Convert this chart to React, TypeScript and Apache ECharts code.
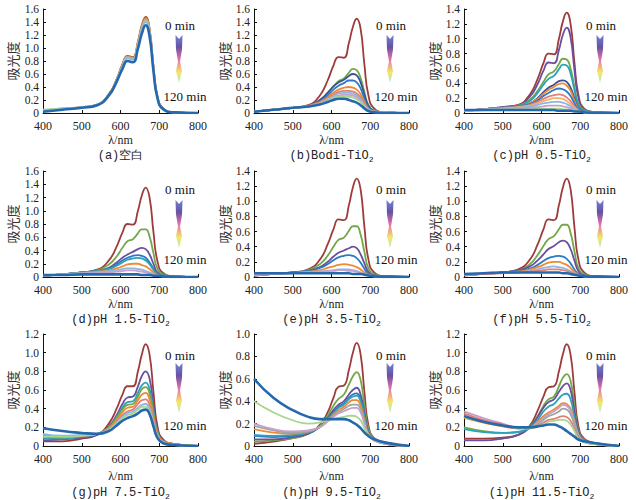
import React, { useEffect, useRef } from "react";
import * as echarts from "echarts";

// wavelength sample points (nm)
const WL = [400, 450, 500, 540, 570, 590, 605, 618, 632, 645, 655, 665, 675, 685, 695, 710, 740, 800];

const X_TICKS = [400, 500, 600, 700, 800];
const Y_MAX = [1.6, 1.6, 1.4, 1.6, 1.4, 1.4, 1.2, 1.0, 1.2];

const CAPTION_MAIN = ["(a)空白", "(b)Bodi-TiO", "(c)pH 0.5-TiO", "(d)pH 1.5-TiO", "(e)pH 3.5-TiO", "(f)pH 5.5-TiO", "(g)pH 7.5-TiO", "(h)pH 9.5-TiO", "(i)pH 11.5-TiO"];
const CAPTION_SUB = ["", "2", "2", "2", "2", "2", "2", "2", "2"];
const Y_NAME = "吸光度";
const X_NAME = "λ/nm";
const T_START = "0 min";
const T_END = "120 min";

// absorbance values, one array per time step (0 min -> 120 min)
const A_VALUES = [
  [0.03, 0.06, 0.09, 0.13, 0.29, 0.52, 0.75, 0.88, 0.86, 1.1, 1.35, 1.48, 1.3, 0.72, 0.27, 0.07, 0.01, 0],
  [0.04, 0.06, 0.09, 0.13, 0.29, 0.51, 0.74, 0.87, 0.85, 1.09, 1.33, 1.46, 1.28, 0.71, 0.26, 0.07, 0.01, 0],
  [0.04, 0.07, 0.09, 0.13, 0.28, 0.51, 0.73, 0.86, 0.84, 1.07, 1.31, 1.44, 1.27, 0.7, 0.26, 0.07, 0.01, 0],
  [0.05, 0.07, 0.09, 0.13, 0.28, 0.5, 0.72, 0.85, 0.83, 1.06, 1.3, 1.42, 1.25, 0.69, 0.25, 0.06, 0.01, 0],
  [0.04, 0.06, 0.09, 0.13, 0.28, 0.5, 0.71, 0.84, 0.82, 1.04, 1.28, 1.4, 1.23, 0.68, 0.25, 0.06, 0.01, 0],
  [0.02, 0.05, 0.08, 0.12, 0.27, 0.48, 0.68, 0.8, 0.78, 0.99, 1.22, 1.35, 1.18, 0.65, 0.24, 0.06, 0.01, 0],
];
const B_VALUES = [
  [0.02, 0.05, 0.08, 0.12, 0.27, 0.5, 0.73, 0.86, 0.85, 1.08, 1.32, 1.45, 1.3, 0.74, 0.28, 0.07, 0.01, 0],
  [0.02, 0.05, 0.08, 0.11, 0.2, 0.31, 0.41, 0.49, 0.53, 0.62, 0.68, 0.66, 0.54, 0.32, 0.13, 0.04, 0.01, 0],
  [0.02, 0.05, 0.08, 0.11, 0.2, 0.31, 0.41, 0.47, 0.51, 0.57, 0.6, 0.58, 0.47, 0.28, 0.11, 0.03, 0.01, 0],
  [0.02, 0.05, 0.08, 0.11, 0.18, 0.27, 0.36, 0.42, 0.46, 0.5, 0.5, 0.47, 0.38, 0.22, 0.09, 0.03, 0.01, 0],
  [0.02, 0.05, 0.08, 0.11, 0.17, 0.24, 0.31, 0.36, 0.39, 0.4, 0.39, 0.36, 0.29, 0.17, 0.07, 0.02, 0.01, 0],
  [0.02, 0.05, 0.08, 0.1, 0.16, 0.22, 0.28, 0.32, 0.34, 0.34, 0.33, 0.3, 0.24, 0.14, 0.06, 0.02, 0.01, 0],
  [0.02, 0.05, 0.08, 0.1, 0.15, 0.21, 0.26, 0.3, 0.31, 0.31, 0.3, 0.27, 0.21, 0.12, 0.05, 0.02, 0.01, 0],
  [0.02, 0.05, 0.08, 0.1, 0.15, 0.2, 0.24, 0.27, 0.28, 0.28, 0.27, 0.24, 0.19, 0.11, 0.05, 0.02, 0.01, 0],
  [0.02, 0.05, 0.08, 0.1, 0.14, 0.19, 0.23, 0.25, 0.25, 0.25, 0.24, 0.21, 0.17, 0.1, 0.04, 0.02, 0.01, 0],
  [0.02, 0.05, 0.08, 0.1, 0.13, 0.17, 0.2, 0.22, 0.22, 0.2, 0.18, 0.16, 0.12, 0.07, 0.03, 0.01, 0, 0],
];
const C_VALUES = [
  [0.03, 0.05, 0.08, 0.11, 0.25, 0.46, 0.67, 0.8, 0.79, 1.0, 1.23, 1.35, 1.2, 0.68, 0.25, 0.06, 0.01, 0],
  [0.03, 0.05, 0.08, 0.1, 0.22, 0.39, 0.57, 0.68, 0.67, 0.85, 1.05, 1.15, 1.02, 0.58, 0.21, 0.05, 0.01, 0],
  [0.03, 0.05, 0.07, 0.1, 0.18, 0.3, 0.42, 0.52, 0.56, 0.66, 0.73, 0.72, 0.6, 0.35, 0.13, 0.04, 0.01, 0],
  [0.03, 0.05, 0.07, 0.1, 0.16, 0.27, 0.38, 0.46, 0.5, 0.59, 0.65, 0.64, 0.53, 0.31, 0.11, 0.03, 0.01, 0],
  [0.03, 0.05, 0.07, 0.09, 0.13, 0.2, 0.28, 0.34, 0.38, 0.43, 0.44, 0.42, 0.34, 0.2, 0.07, 0.02, 0, 0],
  [0.03, 0.05, 0.07, 0.09, 0.13, 0.19, 0.26, 0.31, 0.35, 0.39, 0.4, 0.37, 0.3, 0.17, 0.06, 0.02, 0, 0],
  [0.03, 0.05, 0.07, 0.09, 0.12, 0.17, 0.23, 0.27, 0.31, 0.33, 0.32, 0.29, 0.23, 0.13, 0.05, 0.02, 0, 0],
  [0.03, 0.05, 0.07, 0.08, 0.11, 0.15, 0.19, 0.22, 0.24, 0.25, 0.24, 0.21, 0.16, 0.09, 0.04, 0.01, 0, 0],
  [0.03, 0.05, 0.06, 0.08, 0.1, 0.13, 0.16, 0.18, 0.2, 0.2, 0.19, 0.16, 0.12, 0.07, 0.03, 0.01, 0, 0],
  [0.03, 0.05, 0.06, 0.07, 0.09, 0.11, 0.13, 0.14, 0.15, 0.15, 0.14, 0.12, 0.09, 0.05, 0.02, 0.01, 0, 0],
  [0.03, 0.04, 0.05, 0.06, 0.07, 0.08, 0.09, 0.1, 0.1, 0.1, 0.09, 0.08, 0.06, 0.04, 0.02, 0.01, 0, 0],
  [0.03, 0.04, 0.05, 0.05, 0.05, 0.06, 0.06, 0.06, 0.06, 0.06, 0.05, 0.05, 0.04, 0.03, 0.02, 0.01, 0, 0],
  [0.04, 0.04, 0.04, 0.04, 0.04, 0.04, 0.04, 0.04, 0.04, 0.03, 0.03, 0.03, 0.03, 0.02, 0.02, 0.01, 0, 0],
];
const D_VALUES = [
  [0.02, 0.04, 0.07, 0.11, 0.25, 0.46, 0.67, 0.8, 0.79, 1.0, 1.23, 1.35, 1.2, 0.68, 0.25, 0.06, 0.01, 0],
  [0.02, 0.04, 0.07, 0.1, 0.19, 0.31, 0.44, 0.54, 0.57, 0.66, 0.72, 0.72, 0.61, 0.36, 0.13, 0.04, 0.01, 0],
  [0.02, 0.04, 0.07, 0.09, 0.14, 0.22, 0.29, 0.34, 0.38, 0.42, 0.44, 0.42, 0.34, 0.2, 0.07, 0.02, 0.01, 0],
  [0.02, 0.04, 0.07, 0.09, 0.13, 0.19, 0.25, 0.29, 0.32, 0.33, 0.32, 0.29, 0.22, 0.13, 0.05, 0.02, 0.01, 0],
  [0.02, 0.04, 0.07, 0.09, 0.12, 0.17, 0.22, 0.26, 0.28, 0.29, 0.28, 0.25, 0.19, 0.11, 0.04, 0.02, 0.01, 0],
  [0.02, 0.04, 0.06, 0.08, 0.1, 0.13, 0.16, 0.19, 0.2, 0.2, 0.18, 0.16, 0.12, 0.07, 0.03, 0.01, 0, 0],
  [0.02, 0.04, 0.06, 0.07, 0.09, 0.1, 0.12, 0.13, 0.13, 0.12, 0.11, 0.09, 0.07, 0.04, 0.02, 0.01, 0, 0],
  [0.02, 0.04, 0.05, 0.06, 0.07, 0.08, 0.09, 0.1, 0.1, 0.09, 0.08, 0.07, 0.05, 0.03, 0.02, 0.01, 0, 0],
  [0.03, 0.03, 0.04, 0.04, 0.04, 0.04, 0.04, 0.04, 0.04, 0.04, 0.03, 0.03, 0.03, 0.02, 0.02, 0.01, 0, 0],
];
const E_VALUES = [
  [0.02, 0.04, 0.06, 0.1, 0.23, 0.43, 0.63, 0.76, 0.75, 0.95, 1.18, 1.3, 1.16, 0.66, 0.24, 0.06, 0.01, 0],
  [0.02, 0.04, 0.06, 0.09, 0.17, 0.28, 0.4, 0.49, 0.52, 0.61, 0.67, 0.67, 0.56, 0.33, 0.12, 0.04, 0.01, 0],
  [0.02, 0.04, 0.06, 0.08, 0.13, 0.2, 0.27, 0.32, 0.35, 0.38, 0.4, 0.38, 0.3, 0.18, 0.07, 0.02, 0.01, 0],
  [0.03, 0.04, 0.06, 0.08, 0.12, 0.17, 0.22, 0.26, 0.28, 0.29, 0.28, 0.25, 0.19, 0.11, 0.04, 0.02, 0.01, 0],
  [0.03, 0.04, 0.05, 0.07, 0.09, 0.12, 0.14, 0.16, 0.17, 0.16, 0.15, 0.13, 0.1, 0.06, 0.03, 0.01, 0, 0],
  [0.03, 0.04, 0.05, 0.06, 0.07, 0.08, 0.09, 0.1, 0.1, 0.1, 0.09, 0.08, 0.06, 0.04, 0.02, 0.01, 0, 0],
  [0.03, 0.04, 0.05, 0.06, 0.07, 0.08, 0.08, 0.09, 0.09, 0.08, 0.08, 0.07, 0.05, 0.03, 0.02, 0.01, 0, 0],
  [0.05, 0.05, 0.05, 0.05, 0.05, 0.05, 0.05, 0.05, 0.05, 0.05, 0.04, 0.04, 0.04, 0.03, 0.02, 0.01, 0, 0],
];
const F_VALUES = [
  [0.02, 0.04, 0.06, 0.1, 0.23, 0.43, 0.63, 0.76, 0.75, 0.95, 1.18, 1.3, 1.16, 0.66, 0.24, 0.06, 0.01, 0],
  [0.03, 0.04, 0.06, 0.09, 0.17, 0.29, 0.41, 0.5, 0.54, 0.63, 0.69, 0.69, 0.58, 0.34, 0.12, 0.04, 0.01, 0],
  [0.03, 0.04, 0.06, 0.09, 0.14, 0.22, 0.3, 0.37, 0.41, 0.46, 0.48, 0.46, 0.37, 0.22, 0.08, 0.02, 0.01, 0],
  [0.03, 0.04, 0.06, 0.08, 0.11, 0.16, 0.21, 0.25, 0.27, 0.28, 0.27, 0.24, 0.18, 0.1, 0.04, 0.02, 0.01, 0],
  [0.03, 0.04, 0.06, 0.07, 0.1, 0.13, 0.16, 0.19, 0.2, 0.2, 0.18, 0.16, 0.12, 0.07, 0.03, 0.01, 0, 0],
  [0.03, 0.04, 0.05, 0.06, 0.08, 0.1, 0.12, 0.13, 0.14, 0.13, 0.12, 0.1, 0.08, 0.05, 0.02, 0.01, 0, 0],
  [0.03, 0.04, 0.05, 0.06, 0.07, 0.08, 0.09, 0.1, 0.1, 0.1, 0.09, 0.08, 0.06, 0.04, 0.02, 0.01, 0, 0],
  [0.04, 0.05, 0.06, 0.06, 0.06, 0.06, 0.06, 0.06, 0.06, 0.06, 0.05, 0.05, 0.04, 0.03, 0.02, 0.01, 0, 0],
];
const G_VALUES = [
  [0.05, 0.05, 0.08, 0.12, 0.24, 0.4, 0.55, 0.64, 0.64, 0.8, 0.98, 1.09, 0.98, 0.58, 0.22, 0.07, 0.02, 0],
  [0.06, 0.07, 0.09, 0.12, 0.21, 0.33, 0.45, 0.52, 0.53, 0.64, 0.75, 0.8, 0.72, 0.44, 0.18, 0.06, 0.02, 0],
  [0.08, 0.08, 0.1, 0.13, 0.2, 0.31, 0.41, 0.47, 0.48, 0.57, 0.65, 0.68, 0.61, 0.38, 0.16, 0.05, 0.02, 0],
  [0.1, 0.09, 0.11, 0.13, 0.2, 0.3, 0.39, 0.44, 0.45, 0.53, 0.61, 0.63, 0.56, 0.35, 0.15, 0.05, 0.02, 0],
  [0.12, 0.1, 0.11, 0.13, 0.19, 0.28, 0.36, 0.41, 0.42, 0.49, 0.55, 0.57, 0.5, 0.31, 0.13, 0.05, 0.02, 0],
  [0.12, 0.1, 0.11, 0.13, 0.18, 0.26, 0.33, 0.37, 0.39, 0.45, 0.49, 0.5, 0.44, 0.28, 0.12, 0.04, 0.01, 0],
  [0.13, 0.11, 0.12, 0.13, 0.18, 0.25, 0.31, 0.35, 0.37, 0.41, 0.44, 0.45, 0.4, 0.25, 0.11, 0.04, 0.01, 0],
  [0.1, 0.1, 0.11, 0.13, 0.17, 0.24, 0.3, 0.33, 0.35, 0.39, 0.42, 0.42, 0.37, 0.23, 0.1, 0.04, 0.01, 0],
  [0.19, 0.16, 0.14, 0.13, 0.16, 0.22, 0.27, 0.3, 0.32, 0.35, 0.38, 0.39, 0.34, 0.21, 0.09, 0.03, 0.01, 0],
];
const H_VALUES = [
  [0.02, 0.04, 0.07, 0.11, 0.19, 0.3, 0.43, 0.53, 0.54, 0.68, 0.83, 0.92, 0.82, 0.48, 0.19, 0.07, 0.03, 0],
  [0.04, 0.05, 0.07, 0.11, 0.18, 0.27, 0.36, 0.42, 0.46, 0.55, 0.62, 0.66, 0.59, 0.36, 0.16, 0.07, 0.03, 0],
  [0.06, 0.06, 0.08, 0.11, 0.17, 0.25, 0.32, 0.37, 0.4, 0.46, 0.5, 0.52, 0.46, 0.29, 0.13, 0.06, 0.02, 0],
  [0.09, 0.08, 0.09, 0.12, 0.17, 0.24, 0.3, 0.35, 0.38, 0.43, 0.46, 0.47, 0.42, 0.27, 0.12, 0.06, 0.02, 0],
  [0.1, 0.09, 0.1, 0.12, 0.17, 0.24, 0.29, 0.34, 0.37, 0.42, 0.44, 0.45, 0.4, 0.26, 0.12, 0.06, 0.02, 0],
  [0.15, 0.12, 0.11, 0.13, 0.17, 0.23, 0.28, 0.32, 0.35, 0.39, 0.41, 0.41, 0.36, 0.23, 0.11, 0.06, 0.02, 0],
  [0.18, 0.14, 0.12, 0.13, 0.17, 0.22, 0.27, 0.3, 0.33, 0.36, 0.37, 0.37, 0.33, 0.21, 0.1, 0.05, 0.02, 0],
  [0.2, 0.15, 0.13, 0.14, 0.17, 0.22, 0.26, 0.29, 0.31, 0.33, 0.34, 0.34, 0.3, 0.2, 0.1, 0.05, 0.02, 0],
  [0.4, 0.3, 0.23, 0.2, 0.21, 0.23, 0.24, 0.25, 0.26, 0.27, 0.27, 0.26, 0.23, 0.16, 0.1, 0.06, 0.03, 0],
  [0.6, 0.43, 0.32, 0.26, 0.24, 0.24, 0.24, 0.24, 0.24, 0.23, 0.21, 0.19, 0.16, 0.12, 0.09, 0.06, 0.03, 0],
];
const I_VALUES = [
  [0.08, 0.08, 0.09, 0.12, 0.22, 0.38, 0.53, 0.63, 0.64, 0.8, 0.98, 1.09, 0.98, 0.58, 0.22, 0.08, 0.03, 0],
  [0.2, 0.16, 0.14, 0.15, 0.21, 0.32, 0.43, 0.5, 0.53, 0.64, 0.73, 0.77, 0.7, 0.43, 0.18, 0.07, 0.03, 0],
  [0.06, 0.06, 0.08, 0.12, 0.2, 0.31, 0.41, 0.47, 0.5, 0.58, 0.64, 0.67, 0.6, 0.37, 0.16, 0.06, 0.02, 0],
  [0.18, 0.15, 0.14, 0.15, 0.2, 0.28, 0.37, 0.42, 0.45, 0.51, 0.55, 0.56, 0.5, 0.31, 0.14, 0.06, 0.02, 0],
  [0.3, 0.25, 0.21, 0.19, 0.2, 0.26, 0.32, 0.36, 0.39, 0.43, 0.46, 0.45, 0.4, 0.26, 0.12, 0.05, 0.02, 0],
  [0.37, 0.3, 0.24, 0.2, 0.2, 0.25, 0.3, 0.34, 0.37, 0.41, 0.44, 0.43, 0.38, 0.25, 0.12, 0.05, 0.02, 0],
  [0.33, 0.27, 0.22, 0.19, 0.19, 0.23, 0.28, 0.32, 0.34, 0.37, 0.4, 0.39, 0.34, 0.23, 0.11, 0.05, 0.02, 0],
  [0.35, 0.28, 0.23, 0.19, 0.19, 0.21, 0.25, 0.28, 0.29, 0.31, 0.32, 0.31, 0.27, 0.18, 0.09, 0.04, 0.02, 0],
  [0.31, 0.26, 0.22, 0.19, 0.19, 0.21, 0.23, 0.26, 0.27, 0.28, 0.28, 0.27, 0.23, 0.16, 0.08, 0.04, 0.02, 0],
  [0.32, 0.26, 0.22, 0.2, 0.2, 0.21, 0.22, 0.23, 0.23, 0.21, 0.19, 0.16, 0.13, 0.1, 0.07, 0.05, 0.03, 0],
];

const PANEL_VALUES = [A_VALUES, B_VALUES, C_VALUES, D_VALUES, E_VALUES, F_VALUES, G_VALUES, H_VALUES, I_VALUES];

// styles
const RED = "#9e3b3b", PURPLE = "#6a4f9e", GREEN = "#72a84a", TEAL = "#2aa3b8", DKBLUE = "#3d4f98";
const ORANGE = "#ef8a32", BLUE = "#2a7bc4", SALMON = "#e0807a", LTBLUE = "#8fb6e0", LTPURP = "#c4a0cc";
const LTGREEN = "#a9d58f", GRAY = "#a3a3a3", LTORANGE = "#f5b070", FINAL = "#2468ad";
const PANEL_COLORS = [
  [RED, ORANGE, GRAY, LTGREEN, LTBLUE, FINAL],
  [RED, GREEN, DKBLUE, BLUE, ORANGE, SALMON, LTBLUE, LTPURP, LTGREEN, FINAL],
  [RED, PURPLE, GREEN, TEAL, DKBLUE, ORANGE, BLUE, SALMON, LTORANGE, LTBLUE, LTPURP, LTGREEN, FINAL],
  [RED, GREEN, PURPLE, BLUE, TEAL, ORANGE, LTBLUE, LTPURP, FINAL],
  [RED, GREEN, PURPLE, BLUE, ORANGE, LTBLUE, LTPURP, FINAL],
  [RED, GREEN, PURPLE, BLUE, ORANGE, LTBLUE, SALMON, FINAL],
  [RED, PURPLE, TEAL, GREEN, ORANGE, SALMON, LTBLUE, LTGREEN, FINAL],
  [RED, GREEN, PURPLE, BLUE, TEAL, ORANGE, GRAY, LTPURP, LTGREEN, FINAL],
  [RED, GREEN, PURPLE, TEAL, ORANGE, LTPURP, GRAY, SALMON, LTGREEN, FINAL],
];

const COL_LEFT = [43, 254, 464];
const PLOT_W = 155;
const ROW_TOP = [9, 171, 334];
const ROW_H = [104, 106, 112];
const YNAME_X = [12, 224, 434];
const XNAME_Y = [140, 304, 476];
const CAPTION_Y = [156, 320, 493];
const T0_DY = [16, 18, 21];
const ARROW_DY = [26, 29, 29];
const ARROW_LEN = [48, 48, 50];
const T1_DY = [87, 88, 91];

const SERIF = "Liberation Serif";
const CJK = "Noto Sans CJK SC";
const MONO = "Liberation Mono";

export default function App() {
  const ref = useRef<HTMLDivElement>(null);
  useEffect(() => {
    if (!ref.current) return;
    const chart = echarts.init(ref.current, null, { renderer: "svg" });
    const grid: any[] = [], xAxis: any[] = [], yAxis: any[] = [], series: any[] = [], graphic: any[] = [];
    const center = { align: "center", verticalAlign: "middle", textAlign: "center", textVerticalAlign: "middle" };
    PANEL_VALUES.forEach((vals, p) => {
      const r = Math.floor(p / 3), c = p % 3;
      const left = COL_LEFT[c], top = ROW_TOP[r], h = ROW_H[r];
      const right = left + PLOT_W;
      grid.push({ left, top, width: PLOT_W, height: h });
      const axisCommon = {
        axisLine: { show: true, lineStyle: { color: "#111", width: 1 } },
        axisTick: { show: true, inside: true, length: 3, lineStyle: { color: "#111" } },
        splitLine: { show: false },
      };
      xAxis.push({
        gridIndex: p, type: "value", min: X_TICKS[0], max: X_TICKS[X_TICKS.length - 1], interval: 100,
        ...axisCommon,
        axisLabel: { fontFamily: SERIF, fontSize: 12, color: "#222", margin: 7, lineHeight: 12 },
      });
      yAxis.push({
        gridIndex: p, type: "value", min: 0, max: Y_MAX[p], interval: 0.2,
        ...axisCommon,
        axisLabel: {
          fontFamily: SERIF, fontSize: 11.5, color: "#222", margin: 4, lineHeight: 11.5,
          formatter: (v: number) => (v === 0 ? "0" : v.toFixed(1)),
        },
      });
      const cols = PANEL_COLORS[p];
      vals.forEach((arr, k) => {
        const isLast = k === vals.length - 1;
        series.push({
          type: "line", xAxisIndex: p, yAxisIndex: p, showSymbol: false, symbol: "none",
          smooth: 0.5,
          lineStyle: { color: cols[k], width: isLast ? 2.6 : 1.8 },
          data: WL.map((x, i) => [x, arr[i]]),
          silent: true, z: 2,
        });
      });
      graphic.push({
        type: "text", x: YNAME_X[c], y: top + h / 2, rotation: Math.PI / 2,
        style: { text: Y_NAME, fontSize: 13, fontFamily: CJK, fill: "#333", ...center },
      });
      graphic.push({
        type: "text", x: left + PLOT_W / 2, y: XNAME_Y[r],
        style: { text: X_NAME, fontSize: 12, fontFamily: SERIF, fill: "#222", ...center },
      });
      const sub = CAPTION_SUB[p];
      graphic.push({
        type: "text", x: left + PLOT_W / 2, y: CAPTION_Y[r],
        style: {
          text: sub ? `{a|${CAPTION_MAIN[p]}}{s|${sub}}` : `{a|${CAPTION_MAIN[p]}}`,
          rich: {
            a: { fontSize: 12, fontFamily: MONO, fill: "#222" },
            s: { fontSize: 8, fontFamily: MONO, fill: "#222", padding: [6, 0, 0, 0] },
          },
          ...center,
        },
      });
      graphic.push({
        type: "text", x: right - 18, y: top + T0_DY[r],
        style: { text: T_START, fontSize: 13, fontFamily: SERIF, fill: "#111", ...center },
      });
      graphic.push({
        type: "text", x: right - 13, y: top + T1_DY[r],
        style: { text: T_END, fontSize: 13, fontFamily: SERIF, fill: "#111", ...center },
      });
      const ax = right - 19, ay = top + ARROW_DY[r], L = ARROW_LEN[r];
      const pts = [
        [ax - 3.5, ay], [ax, ay + 4], [ax + 3.5, ay], [ax + 3, ay + L * 0.3], [ax + 1, ay + L * 0.55],
        [ax + 3, ay + L * 0.75], [ax, ay + L], [ax - 3, ay + L * 0.75], [ax - 1, ay + L * 0.55], [ax - 3, ay + L * 0.3],
      ];
      graphic.push({
        type: "polygon", shape: { points: pts },
        style: {
          fill: new echarts.graphic.LinearGradient(0, 0, 0, 1, [
            { offset: 0, color: "#5a6ad0" },
            { offset: 0.25, color: "#4a3590" },
            { offset: 0.5, color: "#e0559a" },
            { offset: 0.78, color: "#f2e24a" },
            { offset: 1, color: "#a8e6c0" },
          ]),
          opacity: 0.85,
        },
      });
    });
    chart.setOption({
      animation: false,
      backgroundColor: "#ffffff",
      textStyle: { fontFamily: SERIF },
      grid, xAxis, yAxis, series, graphic,
    });
    return () => chart.dispose();
  }, []);
  return <div ref={ref} style={{ position: "absolute", left: 0, top: 0, width: 636, height: 500 }} />;
}
